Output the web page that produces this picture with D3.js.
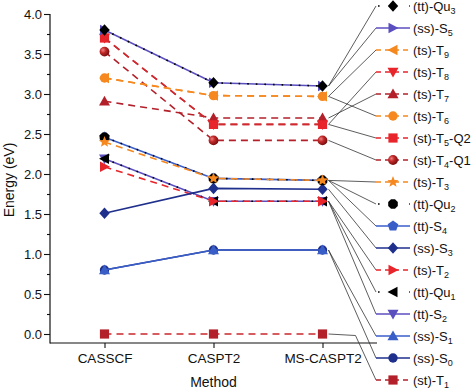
<!DOCTYPE html>
<html><head><meta charset="utf-8">
<script src="https://cdn.jsdelivr.net/npm/d3@7"></script>
<style>html,body{margin:0;padding:0;background:#fff;}svg{display:block;font-family:"Liberation Sans",Arial,sans-serif;}</style>
</head><body>
<svg id="c" width="474" height="390"></svg>
<script>
// ---- data ----
const methods = ["CASSCF", "CASPT2", "MS-CASPT2"];
const yTicks = [0.0, 0.5, 1.0, 1.5, 2.0, 2.5, 3.0, 3.5, 4.0];
const yMinorTicks = [0.25, 0.75, 1.25, 1.75, 2.25, 2.75, 3.25, 3.75];
// legend order (top to bottom); "_x" marks a subscript character
const seriesNames = ["(tt)-Qu_3", "(ss)-S_5", "(ts)-T_9", "(ts)-T_8", "(ts)-T_7", "(ts)-T_6",
  "(st)-T_5-Q2", "(st)-T_4-Q1", "(ts)-T_3", "(tt)-Qu_2", "(tt)-S_4", "(ss)-S_3", "(ts)-T_2",
  "(tt)-Qu_1", "(tt)-S_2", "(ss)-S_1", "(ss)-S_0", "(st)-T_1"];
const seriesValues = [
  [3.80, 3.14, 3.10], // Qu3
  [3.80, 3.14, 3.10], // S5
  [3.20, 2.98, 2.97], // T9
  [3.70, 2.62, 2.62], // T8
  [2.91, 2.70, 2.70], // T7
  [3.20, 2.98, 2.97], // T6
  [3.70, 2.62, 2.62], // T5-Q2
  [3.53, 2.42, 2.42], // T4-Q1
  [2.40, 1.945, 1.92], // T3
  [2.46, 1.945, 1.92], // Qu2
  [2.46, 1.945, 1.92], // S4
  [1.51, 1.82, 1.81], // S3
  [2.09, 1.66, 1.66], // T2
  [2.19, 1.66, 1.66], // Qu1
  [2.19, 1.66, 1.66], // S2
  [0.80, 1.05, 1.05], // S1
  [0.80, 1.05, 1.05], // S0
  [0.00, 0.00, 0.00]  // T1
];
// ---- styles (per series, same order) ----
const C = {black:"#000", purple:"#5b4fc0", blue:"#3a5ec8", navy:"#1e2f8c",
  orange:"#f5881f", red:"#e8252b", dred:"#b3202a"};
const seriesStyle = [
  {c:C.black, dash:"dot", m:"diamond"},
  {c:C.purple, dash:"solid", m:"tright"},
  {c:C.orange, dash:"dash", m:"tleft"},
  {c:C.red, lc:"#cf2a30", dash:"dash", m:"tdown"},
  {c:C.dred, dash:"dash", m:"tup"},
  {c:C.orange, dash:"dash", m:"circle"},
  {c:C.red, lc:"#cf2a30", dash:"dash", m:"square"},
  {c:C.dred, dash:"dash", m:"sphere"},
  {c:C.orange, dash:"dash", m:"star"},
  {c:C.black, dash:"dot", m:"hex"},
  {c:C.blue, dash:"solid", m:"pent"},
  {c:C.navy, dash:"solid", m:"diamond"},
  {c:C.red, dash:"dash", m:"tright"},
  {c:C.black, dash:"dot", m:"tleft"},
  {c:C.purple, dash:"solid", m:"tdown"},
  {c:C.blue, dash:"solid", m:"tup"},
  {c:C.navy, dash:"solid", m:"circle"},
  {c:C.dred, lc:"#c8282e", dash:"dash", m:"square"}
];

const svg = d3.select("#c");
const defs = svg.append("defs");
const grad = defs.append("radialGradient").attr("id","sph").attr("cx","35%").attr("cy","35%").attr("r","65%");
grad.append("stop").attr("offset","0%").attr("stop-color","#f08080");
grad.append("stop").attr("offset","45%").attr("stop-color","#c02828");
grad.append("stop").attr("offset","100%").attr("stop-color","#7a1010");

const x = d3.scalePoint().domain(d3.range(methods.length)).range([50, 377]).padding(0.5);
const y = d3.scaleLinear().domain([0, 4]).range([334, 14]);
const axisY0 = 343;

function polyPath(n, r, rot) {
  const pts = d3.range(n).map(i => {
    const a = rot + i * 2 * Math.PI / n;
    return [r * Math.cos(a), r * Math.sin(a)];
  });
  return "M" + pts.map(p => p.join(",")).join("L") + "Z";
}
function starPath(R, r) {
  const pts = d3.range(10).map(i => {
    const a = -Math.PI / 2 + i * Math.PI / 5, rr = i % 2 ? r : R;
    return [rr * Math.cos(a), rr * Math.sin(a)];
  });
  return "M" + pts.map(p => p.join(",")).join("L") + "Z";
}
const markerPaths = {
  diamond: "M0,-5.8L5.2,0L0,5.8L-5.2,0Z",
  tright: "M5.5,0L-4.5,-5.2L-4.5,5.2Z",
  tleft: "M-5.5,0L4.5,-5.2L4.5,5.2Z",
  tdown: "M-5.5,-4.2L5.5,-4.2L0,5.5Z",
  tup: "M-5.5,4.2L5.5,4.2L0,-5.5Z",
  square: "M-4.6,-4.6L4.6,-4.6L4.6,4.6L-4.6,4.6Z",
  star: starPath(6, 2.6),
  hex: polyPath(8, 5.2, Math.PI / 8),
  pent: polyPath(5, 5.6, -Math.PI / 2)
};
function drawMarker(g, m, c, cx, cy) {
  if (m === "circle") {
    g.append("circle").attr("cx", cx).attr("cy", cy).attr("r", 4.7).attr("fill", c);
  } else if (m === "sphere") {
    g.append("circle").attr("cx", cx).attr("cy", cy).attr("r", 4.9).attr("fill", "url(#sph)");
  } else {
    g.append("path").attr("d", markerPaths[m]).attr("transform", `translate(${cx},${cy})`).attr("fill", c);
  }
}
function lineAttrs(sel, st) {
  const col = st.lc || st.c;
  if (st.dash === "dot") {
    sel.attr("stroke", col).attr("stroke-width", 1.6).attr("stroke-dasharray", "1.6,7");
  } else if (st.dash === "dash") {
    sel.attr("stroke", col).attr("stroke-width", 1.6).attr("stroke-dasharray", "7,5");
  } else {
    sel.attr("stroke", col).attr("stroke-width", 1.6);
  }
  return sel.attr("fill", "none");
}

// ---- axes ----
const gy = svg.append("g").attr("transform", "translate(50,0)");
gy.call(d3.axisLeft(y).tickValues(yTicks).tickSize(6).tickPadding(2).tickFormat(d3.format(".1f")));
const gym = svg.append("g").attr("transform", "translate(50,0)");
gym.call(d3.axisLeft(y).tickValues(yMinorTicks).tickSize(3).tickFormat(""));
gym.selectAll("text").remove();
const gx = svg.append("g").attr("transform", `translate(0,${axisY0})`);
gx.call(d3.axisBottom(x).tickSize(5).tickPadding(5).tickFormat(i => methods[i]));
[gy, gym, gx].forEach(g => {
  g.select(".domain").remove();
  g.selectAll("line").attr("stroke", "#111").attr("stroke-width", 1.1);
  g.selectAll("text").attr("font-family", '"Liberation Sans",Arial,sans-serif').attr("font-size", 13).attr("fill", "#111");
});
gx.selectAll("text").attr("font-size", 13.5);
svg.append("line").attr("x1", 50).attr("x2", 50).attr("y1", y(4)).attr("y2", axisY0 + 0.5).attr("stroke", "#111").attr("stroke-width", 1.2);
svg.append("line").attr("x1", 50).attr("x2", 377).attr("y1", axisY0).attr("y2", axisY0).attr("stroke", "#111").attr("stroke-width", 1.2);
svg.append("text").attr("transform", "translate(14,180) rotate(-90)").attr("text-anchor", "middle")
  .attr("font-size", 14).attr("fill", "#111").text("Energy (eV)");
svg.append("text").attr("x", x(1)).attr("y", 387).attr("text-anchor", "middle")
  .attr("font-size", 14).attr("fill", "#111").text("Method");

// ---- leader lines ----
const legX0 = 376, legX1 = 410, rowY = i => 6 + 22 * i;
const leaders = svg.append("g");
const xEnd = x(methods.length - 1);
seriesValues.forEach((v, i) => {
  const yv = y(v[v.length - 1]);
  let pts;
  if (v[v.length - 1] === 0) pts = [[xEnd + 6, yv], [xEnd + 33, yv + 1.5], [legX0, rowY(i)]];
  else pts = [[xEnd + 6, yv], [legX0, rowY(i)]];
  leaders.append("path").attr("d", d3.line()(pts)).attr("fill", "none").attr("stroke", "#333").attr("stroke-width", 0.8);
});

// ---- series (drawn in reverse legend order so upper legend items sit on top) ----
const plot = svg.append("g");
const lineGen = d3.line().x((d, j) => x(j)).y(d => y(d));
for (let i = seriesValues.length - 1; i >= 0; i--) {
  const st = seriesStyle[i], v = seriesValues[i];
  const g = plot.append("g");
  lineAttrs(g.append("path").attr("d", lineGen(v)), st);
  v.forEach((d, j) => drawMarker(g, st.m, st.c, x(j), y(d)));
}

// ---- legend ----
const leg = svg.append("g");
seriesNames.forEach((name, i) => {
  const st = seriesStyle[i], yy = rowY(i);
  const g = leg.append("g");
  lineAttrs(g.append("line").attr("x1", legX0).attr("x2", legX1).attr("y1", yy).attr("y2", yy), st)
    .attr("stroke", st.c)
    .attr("stroke-dasharray", st.dash === "dash" ? "5,4" : st.dash === "dot" ? "1.6,14" : null)
    .attr("stroke-dashoffset", st.dash === "dot" ? -2 : 0);
  drawMarker(g, st.m, st.c, (legX0 + legX1) / 2, yy);
  const t = g.append("text").attr("x", 413).attr("y", yy + 4.5).attr("font-size", 13).attr("fill", "#111");
  const parts = name.split(/(_.)/).filter(p => p);
  let shifted = false;
  parts.forEach(p => {
    if (p[0] === "_") {
      t.append("tspan").attr("font-size", 9).attr("dy", 3.5).text(p[1]);
      shifted = true;
    } else {
      const s = t.append("tspan").text(p);
      if (shifted) { s.attr("dy", -3.5); shifted = false; }
    }
  });
});
</script>
</body></html>
